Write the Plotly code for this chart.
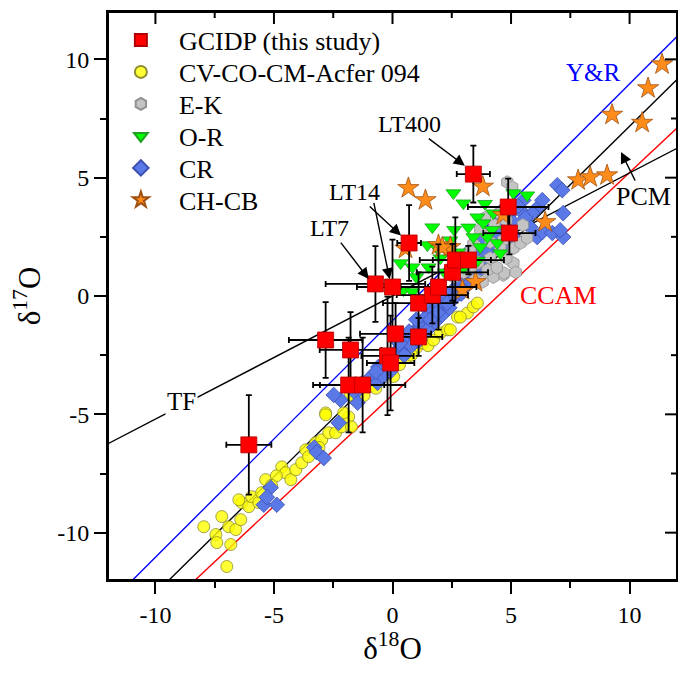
import plotly.graph_objects as go

# ---------------- data ----------------
# GCIDP (this study): d18O, d17O, errors
gc_x = [3.41, 4.88, 4.93, 0.70, -0.72, 0.00, -2.82, -1.77, -1.85, -1.26, 0.13, -0.21, -0.08, 1.10, 1.10, 1.68, 1.94, 2.53, 2.65, 3.20, -6.06]
gc_y = [5.15, 3.76, 2.66, 2.24, 0.51, 0.38, -1.86, -2.28, -3.76, -3.76, -1.60, -2.53, -2.83, -1.73, -0.30, 0.04, 0.38, 1.00, 1.52, 1.52, -6.29]
gc_xe = [0.7, 1.7, 1.1, 0.5, 2.1, 1.5, 1.55, 1.3, 1.5, 1.8, 1.5, 1.1, 1.0, 1.0, 1.5, 1.5, 1.6, 1.5, 1.5, 1.5, 0.95]
gc_ye = [1.2, 1.2, 0.9, 1.6, 1.6, 2.0, 1.6, 1.6, 2.0, 2.0, 1.3, 2.5, 2.0, 0.8, 1.3, 1.2, 1.8, 1.2, 1.8, 0.6, 2.1]

# CV-CO-CM-Acfer 094
cv_x = [-7.96, -7.45, -7.41, -7.20, -6.82, -6.99, -6.91, -6.61, -6.40, -6.36, -6.48, -6.06, -5.94, -5.64, -5.52, -5.35,
        -4.67, -4.51, -4.29, -4.08, -3.83, -3.66, -3.54, -3.24, -2.99, -2.82, -2.69, -2.40, -2.15, -1.85, -1.73, -1.56,
        -2.82, -2.06, -1.77, -1.20, -0.90, -0.50, -0.20, 0.30, 0.60, 1.00, 1.30, 1.50, 1.73, 2.02, 2.32, 2.74, 3.16,
        3.41, 3.58, 2.44, 2.86, -0.70, 0.05, 0.80, -4.90, -5.10, -3.10]
cv_y = [-9.75, -10.08, -10.42, -9.32, -10.50, -11.43, -9.75, -9.87, -9.45, -8.73, -8.61, -8.90, -8.48, -8.73, -8.31, -7.76,
        -7.22, -7.47, -7.76, -7.34, -7.05, -6.50, -6.79, -6.20, -6.08, -4.94, -5.78, -5.78, -5.53, -5.11, -5.53, -4.39,
        -5.02, -4.94, -4.18, -4.20, -3.80, -3.50, -3.20, -2.90, -2.60, -2.20, -2.00, -2.10, -1.86, -1.56, -1.43, -0.89, -0.72,
        -0.46, -0.30, -1.43, -0.89, -3.90, -3.40, -2.50, -7.60, -8.00, -6.40]

# E-K
ek_x = [4.84, 5.05, 4.67, 4.55, 5.10, 5.10, 4.67, 4.21, 4.12, 3.62, 3.41, 3.28, 2.99, 4.70, 4.25, 4.00, 3.62, 4.12, 5.40, 5.68,
        3.90, 4.30, 4.50, 3.30, 2.80, 5.50, 4.00, 3.70, 4.80, 2.60, 3.00, 3.50, 4.40, 4.80, 3.80, 5.20]
ek_y = [4.81, 4.60, 2.36, 2.02, 2.02, 1.39, 0.89, 1.18, 1.60, 1.39, 2.20, 1.90, 1.60, 0.97, 0.80, 1.10, 1.43, 2.28, 2.24, 2.45,
        3.30, 3.00, 3.50, 1.20, 1.10, 3.00, 2.60, 2.80, 3.20, 0.80, 1.00, 0.70, 1.20, 1.60, 0.60, 1.00]

# O-R
or_x = [2.57, 2.99, 1.68, 1.47, 0.34, 0.84, 1.52, 0.46, 0.84, 2.02, 2.44, 3.58, 3.83, 4.00, 3.70, 4.42, 4.55, 3.41, 5.10, 5.68,
        4.25, 2.78, 3.20, 3.90, 4.20, 2.20, 1.00, 3.00, 3.60, 4.80, 1.90, 2.60]
or_y = [4.35, 3.92, 2.91, 2.15, 1.39, 1.22, 1.22, 0.25, 0.17, 1.60, 2.36, 3.33, 3.08, 2.49, 2.07, 2.24, 1.81, 2.49, 4.35, 4.26,
        3.50, 1.85, 2.90, 3.90, 2.80, 1.00, 0.80, 1.20, 1.50, 2.80, 2.00, 2.80]

# CR
cr_x = [-5.43, -5.14, -4.88, -5.30, -3.30, -3.20, -2.90, -2.27, -2.19, -1.56, -1.30, -0.90, -0.60, -0.30, 0.10, 0.40, 0.60, 0.90,
        1.20, 1.40, 1.70, 2.00, 2.20, 2.50, 2.80, 3.10, 3.40, 3.70, 4.00, 4.30, 4.60, 0.20, 0.50, 0.80, 1.10, 1.50, 1.80, 2.10,
        2.40, 2.60, 1.00, 1.30, -0.10, 3.00, 3.60, 4.10, 4.40, 4.90, 5.10, 5.52, 5.39, 5.00, 5.81, 6.10, 6.32, 6.74, 7.20, 7.07,
        7.20, 6.15, 6.32, 6.95, 7.16, 5.90, 4.70, 5.30, -2.48, -1.47, -0.63, -0.40,
        3.20, 3.50, 3.90, 4.20, 4.50, 3.30, 2.90, 2.30, 1.90, 1.60, 0.70, 0.30, -0.20, -0.70, 4.60, 5.30, 5.60, 4.40]
cr_y = [-8.82, -8.10, -8.82, -8.50, -6.40, -6.60, -6.85, -5.36, -4.39, -4.10, -3.70, -3.40, -3.00, -2.80, -2.40, -2.20, -1.80, -1.50,
        -1.30, -0.90, -0.60, -0.40, -0.10, 0.20, 0.50, 0.80, 1.20, 1.50, 1.90, 2.20, 2.50, -1.90, -2.50, -2.10, -1.90, -1.40, -1.10, -0.80,
        -0.50, -0.10, -1.00, -0.40, -3.20, 0.30, 1.00, 1.40, 3.00, 3.40, 3.10, 4.05, 3.63, 2.70, 2.91, 2.49, 2.70, 2.66, 2.49, 2.78,
        3.50, 3.76, 4.05, 4.68, 4.47, 3.50, 2.00, 2.30, -4.18, -4.51, -3.67, -3.40,
        1.60, 1.90, 2.40, 2.70, 2.90, 0.60, 0.10, -0.30, -0.70, -1.00, -1.50, -2.00, -2.60, -3.20, 3.60, 3.80, 3.30, 2.40]

# CH-CB
ch_x = [11.37, 10.78, 9.26, 10.53, 7.83, 8.34, 9.05, 6.44, 3.81, 0.67, 1.39, 1.94, 2.44, 2.10, 4.67, 3.50, 2.95, 0.55]
ch_y = [9.79, 8.78, 7.66, 7.32, 4.89, 5.02, 5.10, 3.12, 4.62, 4.56, 4.05, 2.15, 2.07, 2.05, 3.42, 0.59, 0.25, 2.00]

# reference lines: name, slope, intercept
lines = [("Y&R", 1.00, -1.04, "#0000FF"),
         ("CCAM", 0.94, -4.18, "#FF0000"),
         ("PCM", 0.987, -2.70, "#000000"),
         ("TF", 0.52, 0.0, "#000000")]

x_range = [-12, 12]
y_range = [-12, 12]
ticks_major = [-10, -5, 0, 5, 10]
ticks_minor = [-7.5, -2.5, 2.5, 7.5]
tick_text = ["-10", "-5", "0", "5", "10"]

FONT = "Liberation Serif"

fig = go.Figure()

# lines
for name, m, b, col in lines:
    xs = [x_range[0], x_range[1]]
    ys = [m * v + b for v in xs]
    fig.add_trace(go.Scatter(x=xs, y=ys, mode="lines", line=dict(color=col, width=1.4),
                             showlegend=False, hoverinfo="skip"))

fig.add_trace(go.Scatter(x=cv_x, y=cv_y, mode="markers", name="CV-CO-CM-Acfer 094", legend="legend2",
                         marker=dict(symbol="circle", size=12, color="rgba(255,255,0,0.8)",
                                     line=dict(color="#8C8C30", width=0.8))))
fig.add_trace(go.Scatter(x=cr_x, y=cr_y, mode="markers", name="CR", legend="legend5",
                         marker=dict(symbol="diamond", size=12, color="#5A78E6",
                                     line=dict(color="#3A50B0", width=0.8))))
fig.add_trace(go.Scatter(x=ek_x, y=ek_y, mode="markers", name="E-K", legend="legend3",
                         marker=dict(symbol="hexagon", size=13, color="#C4C4C4",
                                     line=dict(color="#909090", width=0.8))))
fig.add_trace(go.Scatter(x=or_x, y=or_y, mode="markers", name="O-R", legend="legend4",
                         marker=dict(symbol="triangle-down", size=13, color="#00FF00",
                                     line=dict(color="#20A020", width=0.8))))
fig.add_trace(go.Scatter(x=ch_x, y=ch_y, mode="markers", name="CH-CB", legend="legend6",
                         marker=dict(symbol="star", size=16, color="#FF8C1A",
                                     line=dict(color="#A05010", width=0.8))))
fig.add_trace(go.Scatter(x=gc_x, y=gc_y, mode="markers", name="GCIDP (this study)", legend="legend",
                         error_x=dict(type="data", array=gc_xe, color="black", thickness=1.8, width=3),
                         error_y=dict(type="data", array=gc_ye, color="black", thickness=1.8, width=3),
                         marker=dict(symbol="square", size=16, color="#FF0000",
                                     line=dict(color="#B00000", width=0.8))))

ARROW = dict(showarrow=True, axref="x", ayref="y", arrowhead=2, arrowsize=1.6, arrowwidth=1.4,
             arrowcolor="black", standoff=2)

def label(text, x, y, color="black", size=24, bg=None, target=None):
    d = dict(text=text, xref="x", yref="y", font=dict(family=FONT, size=size, color=color))
    if target is not None:
        d.update(ARROW, x=target[0], y=target[1], ax=x, ay=y)
    else:
        d.update(x=x, y=y, showarrow=False)
    if bg:
        d.update(bgcolor=bg)
    fig.add_annotation(**d)

label("LT400", 0.72, 7.26, target=(3.12, 5.45))
label("LT14", -1.62, 4.39, target=(0.42, 2.5))
fig.add_annotation(text="", x=-0.1, y=0.62, xref="x", yref="y", ax=-0.8, ay=4.0, **ARROW)
label("LT7", -2.65, 2.87, target=(-0.95, 0.65))
label("PCM", 10.57, 4.2, size=26, target=(9.6, 6.16))
label("TF", -8.9, -4.47, size=25, bg="white")
label("Y&R", 8.46, 9.45, color="#0000FF", size=25)
label("CCAM", 6.99, 0.04, color="#FF0000", size=26)

# page body has an 8px margin: figure sized so nothing overflows the 686x674 window
W, H = 670, 658
ML, MR, MT, MB = 100, 1, 4, 86
plot_w, plot_h = W - ML - MR, H - MT - MB

# frame of the plot area
fig.add_shape(type="rect", xref="paper", yref="paper", x0=0, x1=1, y0=0, y1=1,
              line=dict(color="black", width=2), layer="above")

# inside ticks on the top and right frame edges, at the same tick values
MAJ_IN, MIN_IN = 12, 6
for vals, ln in ((ticks_major, MAJ_IN), (ticks_minor, MIN_IN)):
    for v in vals:
        fig.add_shape(type="line", xref="x", yref="paper", x0=v, x1=v, y0=1, y1=1 - ln / plot_h,
                      line=dict(color="black", width=2), layer="above")
        fig.add_shape(type="line", xref="paper", yref="y", x0=1, x1=1 - ln / plot_w, y0=v, y1=v,
                      line=dict(color="black", width=2), layer="above")

def axis(rng, title, standoff):
    return dict(range=rng, showgrid=False, zeroline=False, showline=True, mirror=True, linecolor="black",
                linewidth=2, ticks="outside", ticklen=12, tickwidth=2, tickcolor="black",
                tickvals=ticks_major, ticktext=tick_text,
                minor=dict(ticks="outside", ticklen=6, tickwidth=2, tickvals=ticks_minor, tickcolor="black"),
                tickfont=dict(family=FONT, size=24),
                title=dict(text=title, font=dict(family=FONT, size=31), standoff=standoff))

leg_x = -0.009
legends = {}
names = ["legend", "legend2", "legend3", "legend4", "legend5", "legend6"]
for i, nm in enumerate(names):
    py = 40 + 32 * i          # item centre in page pixels
    legends[nm] = dict(x=leg_x, y=(580 - py) / plot_h, xanchor="left",
                       yanchor="middle", bgcolor="rgba(0,0,0,0)",
                       font=dict(family=FONT, size=26), itemsizing="constant", itemwidth=66)

fig.update_layout(
    width=W, height=H,
    margin=dict(l=ML, r=MR, t=MT, b=MB, autoexpand=False),
    paper_bgcolor="white", plot_bgcolor="white",
    font=dict(family=FONT, size=24, color="black"),
    xaxis=axis(x_range, "δ<sup>18</sup>O", 10),
    yaxis=axis(y_range, "δ<sup>17</sup>O", 10),
    **legends,
)

fig.write_html("out.html")
